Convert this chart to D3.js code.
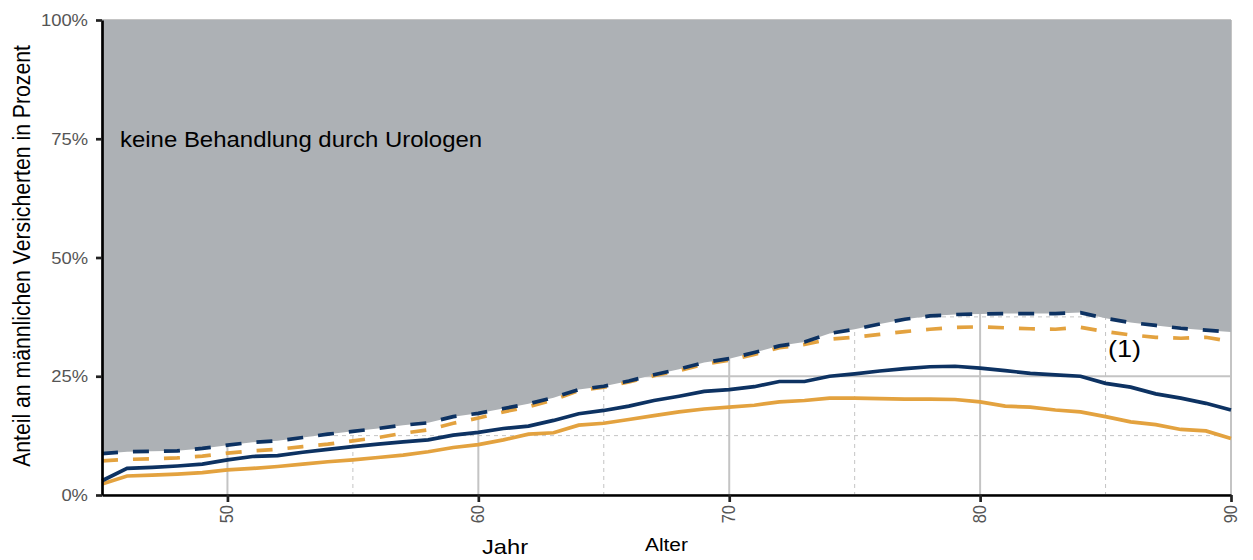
<!DOCTYPE html>
<html>
<head>
<meta charset="utf-8">
<script src="https://cdn.jsdelivr.net/npm/d3@7"></script>
<style>
  body { margin: 0; background: #fff; }
  text { font-family: "Liberation Sans", Arial, sans-serif; }
</style>
</head>
<body>
<svg width="1253" height="560"></svg>
<script>
var ages = [45, 46, 47, 48, 49, 50, 51, 52, 53, 54, 55, 56, 57, 58, 59, 60, 61, 62, 63, 64, 65, 66, 67,
            68, 69, 70, 71, 72, 73, 74, 75, 76, 77, 78, 79, 80, 81, 82, 83, 84, 85, 86, 87, 88, 89, 90];

// dashed lines (upper), navy one bounds the grey area
var navyDashed = [8.7, 9.1, 9.2, 9.3, 9.8, 10.5, 11.1, 11.4, 12.1, 12.8, 13.4, 14.0, 14.7, 15.2, 16.5, 17.2,
                  18.2, 19.2, 20.5, 22.2, 22.9, 24.0, 25.3, 26.5, 27.9, 28.7, 30.0, 31.4, 32.2, 34.0, 34.9,
                  36.0, 37.0, 37.7, 38.0, 38.1, 38.2, 38.2, 38.2, 38.4, 37.2, 36.3, 35.7, 35.1, 34.7, 34.3];
var orangeDashed = [7.2, 7.5, 7.6, 7.8, 8.2, 8.8, 9.3, 9.6, 10.2, 10.7, 11.4, 12.1, 13.0, 13.7, 15.1, 16.2,
                    17.5, 18.6, 20.0, 22.0, 22.7, 23.8, 25.1, 26.2, 27.5, 28.4, 29.6, 31.0, 31.7, 32.8, 33.2,
                    33.8, 34.4, 34.9, 35.3, 35.4, 35.2, 35.0, 34.9, 35.3, 34.4, 33.7, 33.2, 33.0, 33.2, 32.3];
// solid lines
var navySolid = [3.0, 5.6, 5.8, 6.1, 6.5, 7.4, 8.1, 8.3, 9.0, 9.6, 10.2, 10.7, 11.2, 11.6, 12.6, 13.2,
                 14.0, 14.5, 15.7, 17.1, 17.8, 18.7, 19.9, 20.8, 21.8, 22.2, 22.8, 23.9, 23.9, 25.0, 25.5,
                 26.1, 26.6, 27.0, 27.1, 26.7, 26.2, 25.6, 25.3, 25.0, 23.5, 22.7, 21.3, 20.4, 19.3, 17.9];
var orangeSolid = [2.3, 4.0, 4.2, 4.4, 4.7, 5.3, 5.6, 6.0, 6.5, 7.0, 7.4, 7.9, 8.4, 9.1, 10.0, 10.6,
                   11.6, 12.8, 13.1, 14.7, 15.1, 15.9, 16.7, 17.5, 18.1, 18.5, 18.9, 19.6, 19.9, 20.4, 20.4,
                   20.3, 20.2, 20.2, 20.1, 19.6, 18.7, 18.5, 17.9, 17.5, 16.5, 15.4, 14.8, 13.8, 13.5, 11.9];

var xTicks = [50, 60, 70, 80, 90],
    xMinor = [55, 65, 75, 85],
    yTicks = [0, 25, 50, 75, 100],
    yMinor = [12.5, 37.5, 62.5, 87.5];

var svg = d3.select("svg"),
    pLeft = 102, pRight = 1231, pTop = 20, pBottom = 495,
    sx = 1.13;   // text in the reference is a bit wider than tall

var x = d3.scaleLinear().domain([45, 90]).range([pLeft, pRight]);
var y = d3.scaleLinear().domain([0, 100]).range([pBottom, pTop]);

var navy = "#0d3262", orange = "#e3a23f";

// grid
var grid = svg.append("g");
grid.selectAll(".vmin").data(xMinor).enter().append("line")
    .attr("x1", d => x(d)).attr("x2", d => x(d)).attr("y1", pTop).attr("y2", pBottom)
    .attr("stroke", "#c4c4c4").attr("stroke-width", 1).attr("stroke-dasharray", "4,4");
grid.selectAll(".hmin").data(yMinor).enter().append("line")
    .attr("x1", pLeft).attr("x2", pRight).attr("y1", d => y(d)).attr("y2", d => y(d))
    .attr("stroke", "#c4c4c4").attr("stroke-width", 1).attr("stroke-dasharray", "4,4");
grid.selectAll(".vmaj").data(xTicks).enter().append("line")
    .attr("x1", d => x(d)).attr("x2", d => x(d)).attr("y1", pTop).attr("y2", pBottom)
    .attr("stroke", "#c4c4c4").attr("stroke-width", 2);
grid.selectAll(".hmaj").data(yTicks).enter().append("line")
    .attr("x1", pLeft).attr("x2", pRight).attr("y1", d => y(d)).attr("y2", d => y(d))
    .attr("stroke", "#c4c4c4").attr("stroke-width", 2);

// grey area above the navy dashed line
var area = d3.area()
    .x((d, i) => x(ages[i]))
    .y0(y(100))
    .y1(d => y(d));
svg.append("path").datum(navyDashed)
    .attr("d", area)
    .attr("fill", "#adb1b5");

var line = d3.line().x((d, i) => x(ages[i])).y(d => y(d));

function drawLine(vals, color, dashed) {
  svg.append("path").datum(vals)
    .attr("d", line)
    .attr("fill", "none")
    .attr("stroke", color)
    .attr("stroke-width", 3.7)
    .attr("stroke-dasharray", dashed ? "16,15" : null);
}
drawLine(orangeSolid, orange, false);
drawLine(navySolid, navy, false);
drawLine(orangeDashed, orange, true);
drawLine(navyDashed, navy, true);

// axes
var yAxis = svg.append("g").attr("transform", "translate(" + pLeft + ",0)")
    .call(d3.axisLeft(y).tickValues(yTicks).tickSize(6).tickSizeOuter(0).tickFormat(""));
var xAxis = svg.append("g").attr("transform", "translate(0," + pBottom + ")")
    .call(d3.axisBottom(x).tickValues(xTicks).tickSize(7).tickSizeOuter(0).tickFormat(""));
[yAxis, xAxis].forEach(function(a) {
  a.select(".domain").attr("stroke", "#000").attr("stroke-width", 2.7);
  a.selectAll(".tick line").attr("stroke", "#222").attr("stroke-width", 2.7);
});

function label(px, py, txt, size, opts) {
  opts = opts || {};
  var t = "translate(" + px + "," + py + ") scale(" + sx + ",1)" + (opts.rot ? " rotate(" + opts.rot + ")" : "");
  return svg.append("text")
    .attr("transform", t)
    .attr("font-size", size)
    .attr("fill", opts.fill || "#000")
    .attr("text-anchor", opts.anchor || "start")
    .text(txt);
}

// tick labels
yTicks.forEach(function(v) {
  label(88, y(v) + 6, v + "%", 16.3, {anchor: "end", fill: "#555"});
});
xTicks.forEach(function(v) {
  label(x(v) + 6, 505, v, 16.5, {anchor: "end", fill: "#555", rot: -90});
});

label(120, 147, "keine Behandlung durch Urologen", 21.2);
label(1108, 357, "(1)", 24);
label(482, 554, "Jahr", 21);
label(645, 551, "Alter", 18.5);
label(30, 256, "Anteil an männlichen Versicherten in Prozent", 21.2, {anchor: "middle", rot: -90});
</script>
</body>
</html>
